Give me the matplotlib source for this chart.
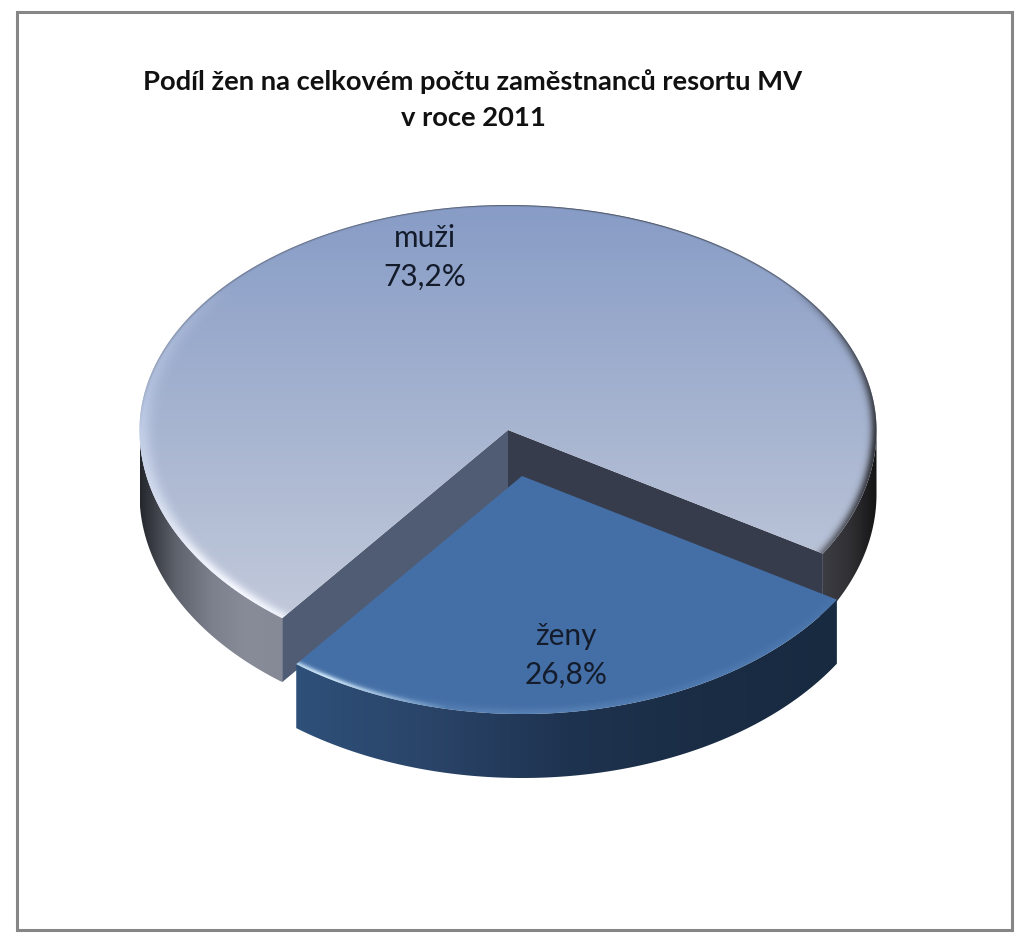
import numpy as np
import matplotlib
matplotlib.use('Agg')
import matplotlib.pyplot as plt
from matplotlib.patches import Polygon, Rectangle
from matplotlib.colors import LinearSegmentedColormap

categories = ["muži", "ženy"]
shares = [73.2, 26.8]
title_lines = ["Podíl žen na celkovém počtu zaměstnanců resortu MV", "v roce 2011"]

# pie geometry in pixels of the picture
CX, CY = 508, 430
RX, RY_TOP, RY_BOT = 368.5, 225, 238
DEPTH = 64
EXPLODE = (14, 46)
START = -31.3  # angle where the zeny slice begins, going clockwise

plt.rcParams['font.family'] = ['Lato', 'DejaVu Sans']
fig = plt.figure(figsize=(10.24, 9.41), dpi=100)
ax = fig.add_axes([0, 0, 1, 1])


def rim(t_deg, dx=0, dy=0):
    t = np.radians(t_deg)
    s = np.sin(t)
    y = CY - np.where(s > 0, RY_TOP, RY_BOT) * s
    return CX + RX * np.cos(t) + dx, y + dy


def ramp(stops):
    return LinearSegmentedColormap.from_list('r', stops)


def clipped_gradient(verts, cmap, box, vertical=False):
    # fills a polygon with a linear gradient
    patch = Polygon(verts, closed=True, fc='none', ec='none')
    ax.add_patch(patch)
    g = np.linspace(0, 1, 256)
    g = g[:, None] if vertical else g[None, :]
    im = ax.imshow(g, cmap=cmap, vmin=0, vmax=1, aspect='auto', interpolation='bilinear',
                   extent=(box[0], box[2], box[3], box[1]), origin='upper')
    im.set_clip_path(patch)


def bevel(verts, dx, dy, color, strength, width):
    # soft rim shading on a top face, strength depends on the angle round the pie
    patch = Polygon(verts, closed=True, fc='none', ec='none')
    ax.add_patch(patch)
    x0, x1 = int(CX + dx - RX - 2), int(CX + dx + RX + 2)
    y0, y1 = int(CY + dy - RY_TOP - 2), int(CY + dy + RY_BOT + 2)
    X, Y = np.meshgrid(np.arange(x0, x1) + .5, np.arange(y0, y1) + .5)
    u = (X - CX - dx) / RX
    v = (CY + dy - Y) / np.where(Y < CY + dy, RY_TOP, RY_BOT)
    r = np.hypot(u, v)
    t = np.degrees(np.arctan2(v, u))
    d = (1 - r) * RX
    a = np.exp(-(np.clip(d, 0, None) / width) ** 2) * strength(t)
    rgba = np.zeros(X.shape + (4,))
    rgba[..., :3] = matplotlib.colors.to_rgb(color)
    rgba[..., 3] = np.clip(a, 0, 1)
    im = ax.imshow(rgba, extent=(x0, x1, y1, y0), origin='upper', aspect='auto', interpolation='bilinear')
    im.set_clip_path(patch)


def bump(t, centre, half):
    diff = (t - centre + 180) % 360 - 180
    return np.clip(1 - np.abs(diff) / half, 0, 1) ** .7


sweep = [s / sum(shares) * 360 for s in shares]
end = START - sweep[1]  # zeny runs from START down to end

# muzi outer walls
ts = np.linspace(180, 360 + end, 100)
x, y = rim(ts)
wall_left = np.r_[np.c_[x, y], np.c_[x[::-1], y[::-1] + DEPTH]]
clipped_gradient(wall_left, ramp(['#24272c', '#5e626c', '#7c808c', '#888c98', '#868a96']), (CX - RX, 0, rim(end)[0], 941))
ts = np.linspace(START, 0, 60)
x, y = rim(ts)
wall_right = np.r_[np.c_[x, y], np.c_[x[::-1], y[::-1] + DEPTH]]
clipped_gradient(wall_right, ramp(['#3c3c44', '#303034', '#141414']), (x[0], 0, CX + RX, 941))

# cut faces of the muzi slice, zorder 0 keeps them in order with the images
lx, ly = rim(end)
rx_, ry_ = rim(START)
ax.add_patch(Polygon([(CX, CY), (lx, ly), (lx, ly + DEPTH), (CX, CY + DEPTH)], fc='#505c74', ec='none', zorder=0))
ax.add_patch(Polygon([(CX, CY), (rx_, ry_), (rx_, ry_ + DEPTH), (CX, CY + DEPTH)], fc='#363c4c', ec='none', zorder=0))

# muzi top
ts = np.linspace(START, 360 + end, 400)
x, y = rim(ts)
top_m = np.r_[[(CX, CY)], np.c_[x, y]]
clipped_gradient(top_m, ramp(['#879cc6', '#a9b6d1', '#c8cedd']), (0, CY - RY_TOP, 1024, CY + RY_BOT), vertical=True)
bevel(top_m, 0, 0, '#f6f8ff', lambda t: 1.0 * bump(t, 222, 50), 9)
bevel(top_m, 0, 0, '#c4d2ee', lambda t: .6 * bump(t, 175, 35), 12)
bevel(top_m, 0, 0, '#26262a', lambda t: .9 * bump(t, -5, 45), 6)
bevel(top_m, 0, 0, '#3c4048', lambda t: .85 * bump(t, 70, 110), 1.8)

# zeny wall and top
dx, dy = EXPLODE
ts = np.linspace(end, START, 200)
x, y = rim(ts, dx, dy)
wall_z = np.r_[np.c_[x, y], np.c_[x[::-1], y[::-1] + DEPTH]]
clipped_gradient(wall_z, ramp(['#2e5079', '#2a4468', '#1e3350', '#1b2d45', '#182a40']), (x[0], 0, x[-1], 941))
top_z = np.r_[[(CX + dx, CY + dy)], np.c_[x, y]]
ax.add_patch(Polygon(top_z, closed=True, fc='#446fa6', ec='none', zorder=0))
bevel(top_z, dx, dy, '#d8f0ff', lambda t: 1.0 * bump(t, -122, 20), 5)
bevel(top_z, dx, dy, '#7fa6d2', lambda t: .3 * bump(t, -95, 30), 9)
bevel(top_z, dx, dy, '#6f9ccf', lambda t: .25 * bump(t, -60, 40), 8)

# labels
label_pos = [(425, 238), (566, 636)]
for name, share, (lx_, ly_) in zip(categories, shares, label_pos):
    ax.text(lx_, ly_, name, fontsize=21.5, color='#141c2c', ha='center', va='center')
    ax.text(lx_, ly_ + 39, f"{share:.1f}%".replace('.', ','), fontsize=21.5, color='#141c2c', ha='center', va='center')

ax.text(473, 82, title_lines[0], fontsize=19.7, fontweight='bold', color='#111111', ha='center', va='center')
ax.text(473, 118, title_lines[1], fontsize=19.7, fontweight='bold', color='#111111', ha='center', va='center')

ax.add_patch(Rectangle((17, 12), 995, 918, fc='none', ec='#868686', lw=2.2))

ax.set_xlim(0, 1024)
ax.set_ylim(941, 0)
ax.axis('off')
fig.savefig('out.png', dpi=100, facecolor='white')
